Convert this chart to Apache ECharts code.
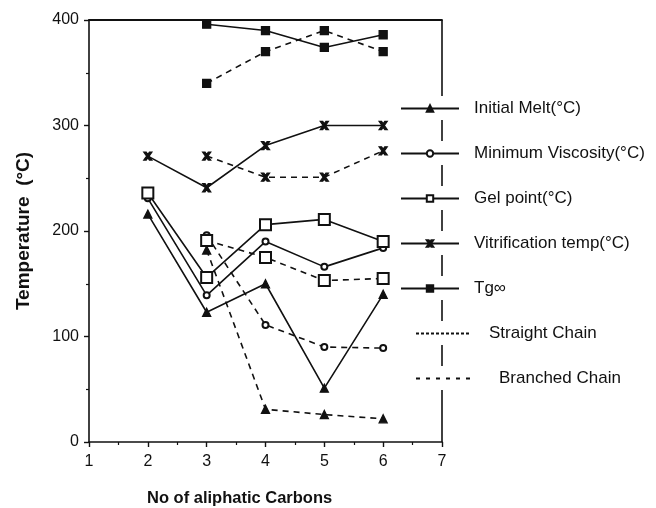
<!DOCTYPE html>
<html>
<head>
<meta charset="utf-8">
<script src="https://cdn.jsdelivr.net/npm/echarts@6/dist/echarts.min.js"></script>
<style>
html, body { margin: 0; padding: 0; background: #fff; }
#chart { width: 656px; height: 508px; }
</style>
</head>
<body>
<div id="chart"></div>
<script>
// number of aliphatic carbons
const carbonsAll = [2, 3, 4, 5, 6];
const carbonsFrom3 = [3, 4, 5, 6];

// solid lines
const meltSolid = [216, 123, 150, 51, 140];
const viscSolid = [231, 139, 190, 166, 184];
const gelSolid = [236, 156, 206, 211, 190];
const vitrSolid = [271, 241, 281, 300, 300];
const tgSolid = [396, 390, 374, 386];

// dashed lines
const meltDash = [182, 31, 26, 22];
const viscDash = [196, 111, 90, 89];
const gelDash = [191, 175, 153, 155];
const vitrDash = [271, 251, 251, 276];
const tgDash = [340, 370, 390, 370];

const xTicks = [1, 2, 3, 4, 5, 6, 7];
const yTicks = [0, 100, 200, 300, 400];

const FONT = 'Liberation Sans, Arial, Helvetica, sans-serif';
const INK = '#111';
const xMark = 'path://M0,0 L3,0 L5,3 L7,0 L10,0 L6.5,5 L10,10 L7,10 L5,7 L3,10 L0,10 L3.5,5 Z';

function pairs(xs, ys) {
  return xs.map((x, i) => [x, ys[i]]);
}

function line(name, xs, ys, symbol, size, dashed) {
  return {
    name: name,
    type: 'line',
    data: pairs(xs, ys),
    symbol: symbol,
    symbolSize: size,
    showSymbol: true,
    itemStyle: { color: INK, borderColor: INK, borderWidth: 1.3 },
    lineStyle: { color: INK, width: 1.6, type: dashed ? [6, 5] : 'solid' },
    emphasis: { disabled: true },
    animation: false,
    z: 3
  };
}

const chart = echarts.init(document.getElementById('chart'));

const LEG_TOP = 100;
const PITCH = 45;

chart.setOption({
  backgroundColor: '#fff',
  animation: false,
  grid: { left: 89, right: 214, top: 20, bottom: 66 },
  title: {
    text: 'No of aliphatic Carbons',
    left: 147,
    top: 490,
    padding: 0,
    textStyle: { fontFamily: FONT, fontSize: 16.5, fontWeight: 'bold', color: INK }
  },
  legend: [
    {
      orient: 'vertical',
      left: 400,
      top: LEG_TOP,
      padding: 0,
      itemWidth: 58,
      itemHeight: 8,
      itemGap: PITCH - 17,
      textStyle: { fontFamily: FONT, fontSize: 17, color: INK, lineHeight: 17, padding: [0, 0, 0, 10] },
      selectedMode: false,
      data: ['Initial Melt(°C)', 'Minimum Viscosity(°C)', 'Gel point(°C)', 'Vitrification temp(°C)', 'Tg∞']
    },
    {
      orient: 'vertical',
      left: 415,
      top: LEG_TOP + 5 * PITCH,
      padding: 0,
      itemWidth: 55,
      itemHeight: 8,
      itemGap: PITCH - 17,
      textStyle: { fontFamily: FONT, fontSize: 17, color: INK, lineHeight: 17 },
      selectedMode: false,
      data: [
        { name: 'Straight Chain', textStyle: { padding: [0, 0, 0, 13] } },
        { name: 'Branched Chain', textStyle: { padding: [0, 0, 0, 23] } }
      ]
    }
  ],
  xAxis: [
    {
      type: 'value',
      min: 1,
      max: 7,
      interval: 1,
      axisLine: { onZero: false, lineStyle: { color: INK, width: 1.6 } },
      axisTick: { show: true, length: 5, lineStyle: { color: INK, width: 1.4 } },
      minorTick: { show: true, splitNumber: 2, length: 3, lineStyle: { color: INK, width: 1.2 } },
      splitLine: { show: false },
      axisLabel: {
        margin: 12,
        fontFamily: FONT,
        fontSize: 16,
        color: INK,
        formatter: v => (xTicks.includes(v) ? String(v) : '')
      }
    },
    {
      type: 'value',
      position: 'top',
      min: 1,
      max: 7,
      axisLine: { show: true, onZero: false, lineStyle: { color: INK, width: 1.8 } },
      axisTick: { show: false },
      axisLabel: { show: false },
      splitLine: { show: false }
    }
  ],
  yAxis: {
    type: 'value',
    min: 0,
    max: 400,
    interval: 100,
    name: 'Temperature  (°C)',
    nameLocation: 'middle',
    nameGap: 56,
    nameTextStyle: { fontFamily: FONT, fontSize: 19, fontWeight: 'bold', color: INK },
    axisLine: { show: true, onZero: false, lineStyle: { color: INK, width: 1.6 } },
    axisTick: { show: true, length: 5, lineStyle: { color: INK, width: 1.4 } },
    minorTick: { show: true, splitNumber: 2, length: 3, lineStyle: { color: INK, width: 1.2 } },
    splitLine: { show: false },
    axisLabel: {
      margin: 10,
      fontFamily: FONT,
      fontSize: 16,
      color: INK,
      formatter: v => (yTicks.includes(v) ? String(v) : '')
    }
  },
  series: [
    line('Initial Melt(°C)', carbonsAll, meltSolid, 'triangle', 8, false),
    line('Minimum Viscosity(°C)', carbonsAll, viscSolid, 'emptyCircle', 6, false),
    line('Gel point(°C)', carbonsAll, gelSolid, 'emptyRect', 11, false),
    line('Vitrification temp(°C)', carbonsAll, vitrSolid, xMark, 8, false),
    line('Tg∞', carbonsFrom3, tgSolid, 'rect', 8, false),
    line('Initial Melt dashed', carbonsFrom3, meltDash, 'triangle', 8, true),
    line('Minimum Viscosity dashed', carbonsFrom3, viscDash, 'emptyCircle', 6, true),
    line('Gel point dashed', carbonsFrom3, gelDash, 'emptyRect', 11, true),
    line('Vitrification dashed', carbonsFrom3, vitrDash, xMark, 8, true),
    line('Tg dashed', carbonsFrom3, tgDash, 'rect', 8, true),
    {
      name: 'Straight Chain',
      type: 'line',
      data: [],
      symbol: 'none',
      itemStyle: { color: 'rgba(0,0,0,0)', borderWidth: 0 },
      lineStyle: { color: INK, width: 1, type: [3, 2] }
    },
    {
      name: 'Branched Chain',
      type: 'line',
      data: [],
      symbol: 'none',
      itemStyle: { color: 'rgba(0,0,0,0)', borderWidth: 0 },
      lineStyle: { color: INK, width: 1, type: [4, 6] }
    }
  ]
});

// right frame edge, broken where the legend rows cross it
const edgeTop = chart.convertToPixel({ gridIndex: 0 }, [7, 400]);
const edgeBot = chart.convertToPixel({ gridIndex: 0 }, [7, 0]);
const edgeX = edgeTop[0];
const rowCenters = [];
for (let i = 0; i < 7; i++) rowCenters.push(LEG_TOP + 8 + i * PITCH);
const segs = [];
let segStart = edgeTop[1];
rowCenters.forEach(c => {
  segs.push([segStart, c - 12]);
  segStart = c + 12;
});
segs.push([segStart, edgeBot[1]]);
chart.setOption({
  graphic: segs.map(s => ({
    type: 'line',
    shape: { x1: edgeX, y1: s[0], x2: edgeX, y2: s[1] },
    style: { stroke: INK, lineWidth: 1.6 },
    silent: true
  }))
});
</script>
</body>
</html>
